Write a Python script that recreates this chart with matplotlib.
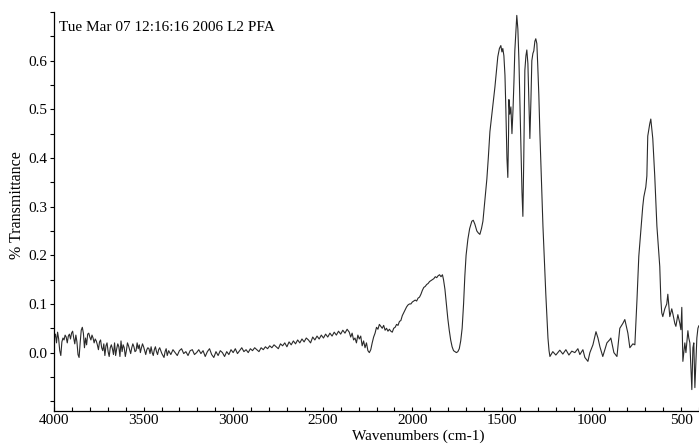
import matplotlib
matplotlib.use("Agg")
import matplotlib.pyplot as plt
from matplotlib.ticker import MultipleLocator, FixedLocator

# IR spectrum (wavenumber cm-1, transmittance)
wn_base = [3998, 3992, 3986, 3980, 3974, 3968, 3962, 3956, 3950, 3944, 3938, 3932,
           3926, 3920, 3914, 3908, 3902, 3896, 3890, 3884, 3878, 3872, 3866, 3860,
           3854, 3848, 3842, 3836, 3830, 3824, 3818, 3812, 3806, 3800, 3794, 3788,
           3782, 3776, 3770, 3764, 3758, 3752, 3746, 3740, 3734, 3728, 3722, 3716,
           3710, 3704, 3698, 3692, 3686, 3680, 3674, 3668, 3662, 3656, 3650, 3644,
           3638, 3632, 3626, 3620, 3614, 3608, 3602, 3596, 3590, 3584, 3578, 3572,
           3566, 3560, 3554, 3548, 3542, 3536, 3530, 3524, 3518, 3512, 3506, 3500,
           3494, 3488, 3482, 3476, 3470, 3464, 3458, 3452, 3446, 3440, 3434, 3428,
           3422, 3416, 3410, 3404, 3398, 3392, 3386, 3380, 3374, 3368]
tr_base = [0.030, 0.038, 0.020, 0.042, 0.028, 0.004, -0.006, 0.022, 0.030, 0.026, 0.036, 0.032,
           0.020, 0.034, 0.038, 0.028, 0.040, 0.044, 0.030, 0.018, 0.036, 0.022, -0.004, -0.010,
           0.020, 0.046, 0.052, 0.040, 0.010, 0.030, 0.016, 0.038, 0.040, 0.032, 0.026, 0.036,
           0.030, 0.020, 0.028, 0.024, 0.016, 0.006, 0.022, 0.026, 0.010, 0.004, 0.018, -0.006,
           0.014, 0.020, 0.002, -0.008, 0.010, 0.016, 0.008, -0.004, 0.020, -0.006, 0.008, 0.018,
           0.012, -0.008, 0.024, 0.002, 0.016, 0.010, -0.008, 0.004, 0.020, 0.014, 0.006, -0.002,
           0.010, 0.018, 0.012, 0.002, 0.004, 0.020, 0.008, 0.016, 0.000, 0.010, 0.018, 0.012,
           0.004, -0.004, 0.006, 0.010, 0.008, -0.002, 0.012, 0.000, -0.006, 0.006, 0.012, 0.002,
           -0.004, 0.006, 0.010, 0.004, -0.002, -0.006, -0.010, 0.002, 0.008, -0.006]

wn_mid = [3360, 3348, 3336, 3324, 3312, 3300, 3288, 3276, 3264, 3252, 3240, 3228,
          3216, 3204, 3192, 3180, 3168, 3156, 3144, 3132, 3120, 3108, 3096, 3084,
          3072, 3060, 3048, 3036, 3024, 3012, 3000, 2988, 2976, 2964, 2952, 2940,
          2928, 2916, 2904, 2892, 2880, 2868, 2856, 2844, 2832, 2820, 2808, 2796,
          2784, 2772, 2760, 2748, 2736, 2724, 2712, 2700, 2688, 2676, 2664, 2652,
          2640, 2628, 2616, 2604, 2592, 2580, 2568, 2556, 2544, 2532, 2520, 2508,
          2496, 2484, 2472, 2460, 2448, 2436, 2424, 2412, 2400, 2388, 2376, 2364,
          2352, 2344, 2336, 2328, 2320, 2312, 2304, 2296, 2288, 2280, 2272, 2264,
          2256, 2248, 2240, 2232, 2224, 2216, 2208, 2200, 2192, 2184, 2176, 2168,
          2160, 2152, 2144, 2136, 2128, 2120, 2112, 2104, 2096, 2088, 2080, 2072,
          2064, 2056, 2048, 2040, 2032, 2024, 2016, 2008, 2000, 1992, 1984, 1976,
          1968, 1960, 1952, 1944, 1936, 1928, 1920, 1912, 1904, 1896, 1888, 1880,
          1872, 1864, 1856, 1848, 1840, 1832, 1826, 1818, 1810, 1802, 1794, 1786,
          1778, 1770, 1762, 1754, 1746, 1738, 1730, 1722, 1714, 1707, 1700, 1690,
          1680, 1668, 1660, 1651, 1640, 1632, 1623, 1614, 1606, 1596, 1584, 1576,
          1567, 1553, 1539, 1530, 1523, 1514, 1506, 1500, 1495, 1489, 1483, 1478,
          1472, 1467, 1463, 1461, 1456, 1450, 1444, 1438, 1433, 1428, 1422, 1417,
          1411, 1405, 1400, 1394, 1388, 1383, 1378, 1372, 1366, 1361, 1355, 1350,
          1344, 1338, 1333, 1327, 1322, 1316, 1311, 1305, 1300, 1294, 1288, 1280,
          1271, 1262, 1255, 1249, 1243, 1237, 1232]
tr_mid = [0.004, -0.004, 0.006, 0.000, -0.006, 0.004, 0.008, -0.002, 0.002, -0.006, 0.004, 0.006,
          -0.004, 0.000, 0.006, -0.002, 0.004, -0.008, 0.002, 0.008, -0.004, -0.010, 0.002, -0.006,
          0.004, 0.000, -0.008, 0.002, -0.004, 0.006, 0.000, 0.008, -0.002, 0.004, 0.010, 0.002,
          0.006, 0.000, 0.008, 0.004, 0.010, 0.006, 0.002, 0.010, 0.006, 0.012, 0.008, 0.014,
          0.010, 0.016, 0.012, 0.008, 0.018, 0.014, 0.020, 0.012, 0.022, 0.016, 0.024, 0.018,
          0.026, 0.020, 0.028, 0.022, 0.030, 0.026, 0.020, 0.032, 0.026, 0.034, 0.028, 0.036,
          0.030, 0.038, 0.032, 0.040, 0.034, 0.042, 0.036, 0.044, 0.038, 0.046, 0.040, 0.048,
          0.042, 0.032, 0.040, 0.026, 0.030, 0.020, 0.036, 0.028, 0.034, 0.014, 0.024, 0.010,
          0.020, 0.004, 0.000, 0.006, 0.020, 0.032, 0.040, 0.052, 0.048, 0.058, 0.054, 0.050,
          0.056, 0.046, 0.050, 0.044, 0.048, 0.044, 0.042, 0.050, 0.052, 0.058, 0.056, 0.064,
          0.066, 0.076, 0.082, 0.088, 0.094, 0.098, 0.100, 0.100, 0.104, 0.106, 0.108, 0.106,
          0.112, 0.114, 0.120, 0.128, 0.134, 0.136, 0.140, 0.142, 0.146, 0.148, 0.150, 0.152,
          0.156, 0.154, 0.158, 0.160, 0.156, 0.160, 0.150, 0.130, 0.100, 0.070, 0.046, 0.026,
          0.012, 0.004, 0.002, 0.000, 0.002, 0.008, 0.024, 0.050, 0.100, 0.157, 0.200, 0.233,
          0.255, 0.270, 0.272, 0.264, 0.250, 0.246, 0.243, 0.255, 0.270, 0.310, 0.357, 0.400,
          0.454, 0.500, 0.546, 0.580, 0.608, 0.625, 0.631, 0.618, 0.625, 0.610, 0.570, 0.500,
          0.400, 0.360, 0.450, 0.520, 0.490, 0.505, 0.450, 0.500, 0.555, 0.620, 0.660, 0.693,
          0.665, 0.600, 0.520, 0.420, 0.330, 0.280, 0.400, 0.580, 0.610, 0.622, 0.594, 0.520,
          0.440, 0.520, 0.600, 0.615, 0.620, 0.640, 0.645, 0.635, 0.590, 0.530, 0.450, 0.360,
          0.260, 0.180, 0.120, 0.074, 0.030, 0.004, -0.008]

wn_low = [1216, 1199, 1177, 1160, 1143, 1126, 1110, 1093, 1076, 1065, 1048, 1037,
          1020, 1009, 992, 975, 964, 953, 937, 914, 897, 892, 875, 858,
          842, 825, 814, 797, 786, 769, 758, 746, 736, 725, 714, 708,
          697, 691, 686, 675, 669, 658, 647, 635, 619, 613, 608, 602,
          591, 580, 574, 563, 552, 546, 535, 529, 518, 507, 501, 496,
          490, 479, 473, 462, 457, 451, 440, 434, 429, 423, 412, 406, 401]
tr_low = [0.002, -0.005, 0.005, -0.003, 0.006, -0.005, 0.003, 0.000, 0.008, -0.004, 0.006, -0.010,
          -0.018, 0.000, 0.016, 0.043, 0.030, 0.012, -0.008, 0.020, 0.027, 0.030, 0.000, -0.008,
          0.050, 0.060, 0.068, 0.040, 0.010, 0.018, 0.016, 0.110, 0.198, 0.250, 0.300, 0.320,
          0.340, 0.363, 0.445, 0.470, 0.480, 0.440, 0.363, 0.260, 0.177, 0.110, 0.082, 0.074,
          0.090, 0.100, 0.120, 0.074, 0.090, 0.080, 0.060, 0.054, 0.078, 0.060, 0.047, 0.093,
          -0.018, 0.020, 0.000, 0.045, 0.030, 0.020, -0.076, 0.010, 0.020, -0.072, 0.030, 0.050, 0.055]

wavenumber = wn_base + wn_mid + wn_low
transmittance = tr_base + tr_mid + tr_low

plt.rcParams['font.family'] = ['Liberation Serif', 'DejaVu Serif']

fig = plt.figure(figsize=(6.99, 4.44), dpi=100)
ax = fig.add_axes([54 / 699, 33 / 444, 645 / 699, 399 / 444])

ax.plot(wavenumber, transmittance, color='#2a2a2a', lw=0.8)

ax.set_xlim(4000, 400)
ax.set_ylim(-0.12, 0.70)

ax.xaxis.set_major_locator(FixedLocator([4000, 3500, 3000, 2500, 2000, 1500, 1000, 500]))
ax.xaxis.set_minor_locator(MultipleLocator(100))
ax.yaxis.set_major_locator(FixedLocator([0.0, 0.1, 0.2, 0.3, 0.4, 0.5, 0.6]))
ax.yaxis.set_minor_locator(MultipleLocator(0.05))
ax.yaxis.set_major_formatter(plt.FuncFormatter(lambda v, p: f"{v:.1f}"))

ax.tick_params(axis='x', which='both', direction='in', length=3, width=0.8,
               labelsize=11, pad=2)
ax.tick_params(axis='y', which='both', direction='out', length=3, width=0.8,
               labelsize=11, pad=2)

for side in ['top', 'right']:
    ax.spines[side].set_visible(False)
ax.spines['left'].set_linewidth(0.9)
ax.spines['bottom'].set_linewidth(0.9)

ax.set_xlabel("Wavenumbers (cm-1)", fontsize=11)
ax.xaxis.set_label_coords(0.564, -0.064)
ax.xaxis.label.set_va('center')
ax.set_ylabel("% Transmittance", fontsize=11.5)
ax.yaxis.set_label_coords(-0.057, 0.516)
ax.yaxis.label.set_va('center')

ax.text(0.008, 0.962, "Tue Mar 07 12:16:16 2006 L2 PFA", transform=ax.transAxes,
        fontsize=11, ha='left', va='center')

fig.savefig("out.png", dpi=100)
